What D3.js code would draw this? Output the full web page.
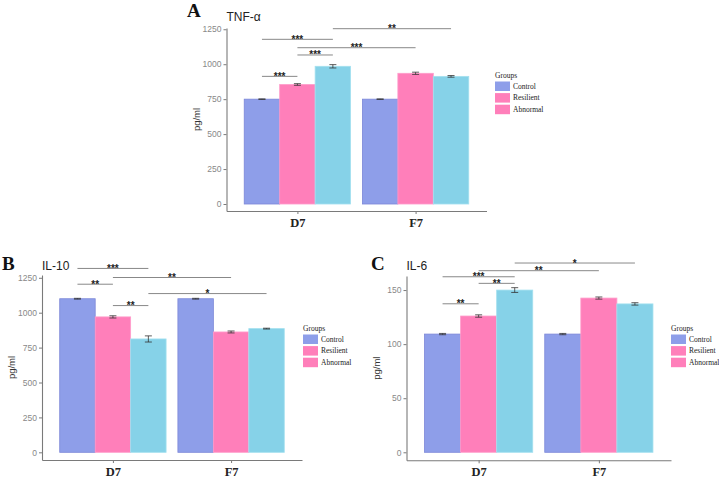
<!DOCTYPE html>
<html>
<head>
<meta charset="utf-8">
<script src="https://cdn.jsdelivr.net/npm/d3@7"></script>
<style>
  body { margin: 0; background: #fff; }
  svg { display: block; }
</style>
</head>
<body>
<div id="chart"></div>
<script>
// shared categories
const timepoints = ["D7", "F7"];
const groups = ["Control", "Resilient", "Abnormal"];
const groupColors = ["#8e9ee9", "#ff7fba", "#86d2e8"];
const groupStrokes = ["#7c87d8", "#ff9ccb", "#a3e0ef"];
// legend swatches as in the original figure (Abnormal shows pink)
const legendColors = ["#8e9ee9", "#ff7fba", "#ff7fba"];

// A: TNF-a
const tnfMean = [[750, 855, 985], [750, 935, 913]];
const tnfErr = [[2, 6, 12], [2, 8, 6]];
const tnfTicks = [0, 250, 500, 750, 1000, 1250];
const tnfSig = [
  { a: [0, 0], b: [0, 1], y: 913, label: "***" },
  { a: [0, 1], b: [0, 2], y: 1066, label: "***" },
  { a: [0, 1], b: [1, 1], y: 1118, label: "***" },
  { a: [0, 0], b: [0, 2], y: 1178, label: "***" },
  { a: [0, 2], b: [1, 2], y: 1254, label: "**" }
];

// B: IL-10
const il10Mean = [[1100, 970, 812], [1100, 862, 886]];
const il10Err = [[3, 8, 22], [3, 7, 3]];
const il10Ticks = [0, 250, 500, 750, 1000, 1250];
const il10Sig = [
  { a: [0, 1], b: [0, 2], y: 1051, label: "**" },
  { a: [0, 2], b: [1, 2], y: 1137, label: "*" },
  { a: [0, 0], b: [0, 1], y: 1204, label: "**" },
  { a: [0, 1], b: [1, 1], y: 1252, label: "**" },
  { a: [0, 0], b: [0, 2], y: 1317, label: "***" }
];

// C: IL-6
const il6Mean = [[109.3, 126, 150], [109.3, 142.6, 137.2]];
const il6Err = [[0.6, 1.1, 2.2], [0.6, 1.0, 1.1]];
const il6Ticks = [0, 50, 100, 150];
const il6Sig = [
  { a: [0, 0], b: [0, 1], y: 137.3, label: "**" },
  { a: [0, 1], b: [0, 2], y: 156.2, label: "**" },
  { a: [0, 0], b: [0, 2], y: 162.3, label: "***" },
  { a: [0, 1], b: [1, 1], y: 167.9, label: "**" },
  { a: [0, 2], b: [1, 2], y: 175, label: "*" }
];

const svg = d3.select("#chart").append("svg").attr("width", 719).attr("height", 479);

function drawPanel(p) {
  const x = d3.scalePoint().domain(timepoints).range([p.left, p.right]).padding(0.6);
  const step = x.step();
  const xg = d3.scaleBand().domain(groups).range([-0.45 * step, 0.45 * step]);
  const y = d3.scaleLinear().domain(p.yDomain).range([p.bottom, p.top]);
  const g = svg.append("g");

  // bars
  const rows = p.mean.flatMap((r, i) => r.map((v, j) => ({ t: timepoints[i], gi: j, v, e: p.err[i][j] })));
  g.selectAll(".bar").data(rows).enter().append("rect")
    .attr("x", d => x(d.t) + xg(groups[d.gi]))
    .attr("y", d => y(d.v))
    .attr("width", xg.bandwidth())
    .attr("height", d => y(0) - y(d.v))
    .attr("fill", d => groupColors[d.gi])
    .attr("stroke", d => groupStrokes[d.gi])
    .attr("stroke-width", 0.8);

  // error bars
  const eb = g.selectAll(".err").data(rows).enter().append("g")
    .attr("stroke", "#333").attr("stroke-width", 0.8);
  const cx = d => x(d.t) + xg(groups[d.gi]) + xg.bandwidth() / 2;
  eb.append("line").attr("x1", cx).attr("x2", cx).attr("y1", d => y(d.v - d.e)).attr("y2", d => y(d.v + d.e));
  eb.append("line").attr("x1", d => cx(d) - 3.5).attr("x2", d => cx(d) + 3.5).attr("y1", d => y(d.v - d.e)).attr("y2", d => y(d.v - d.e));
  eb.append("line").attr("x1", d => cx(d) - 3.5).attr("x2", d => cx(d) + 3.5).attr("y1", d => y(d.v + d.e)).attr("y2", d => y(d.v + d.e));

  // axes
  const yAxis = g.append("g").attr("transform", `translate(${p.left},0)`)
    .call(d3.axisLeft(y).tickValues(p.ticks).tickFormat(d3.format("d")).tickSize(3).tickPadding(2).tickSizeOuter(0));
  yAxis.select(".domain").attr("stroke", "#7a7a7a").attr("stroke-width", 1.1);
  yAxis.selectAll(".tick line").attr("stroke", "#7a7a7a");
  yAxis.selectAll(".tick text").attr("fill", "#888").style("font-family", "Liberation Sans, Arial, sans-serif").style("font-size", "8.5px");

  const xAxis = g.append("g").attr("transform", `translate(0,${p.bottom})`)
    .call(d3.axisBottom(x).tickSize(3).tickPadding(4).tickSizeOuter(0));
  xAxis.select(".domain").attr("stroke", "#7a7a7a").attr("stroke-width", 1.1);
  xAxis.selectAll(".tick line").attr("stroke", "#7a7a7a");
  xAxis.selectAll(".tick text").attr("fill", "#222").style("font-family", "Liberation Serif, Times New Roman, serif")
    .style("font-size", "12.5px").style("font-weight", "bold");

  // y title
  g.append("text")
    .attr("transform", `translate(${p.left - 27},${(p.top + p.bottom) / 2}) rotate(-90)`)
    .attr("text-anchor", "middle")
    .style("font-family", "Liberation Sans, Arial, sans-serif").style("font-size", "9.5px").attr("fill", "#333")
    .text("pg/ml");

  // significance brackets
  const px = ([ti, gi]) => x(timepoints[ti]) + xg(groups[gi]) + xg.bandwidth() / 2;
  const sig = g.selectAll(".sig").data(p.sig).enter().append("g");
  sig.append("line").attr("x1", d => px(d.a)).attr("x2", d => px(d.b))
    .attr("y1", d => y(d.y)).attr("y2", d => y(d.y))
    .attr("stroke", "#7a7a7a").attr("stroke-width", 0.9);
  sig.append("text").attr("x", d => (px(d.a) + px(d.b)) / 2).attr("y", d => y(d.y) + 3.5)
    .attr("text-anchor", "middle").attr("fill", "#222")
    .style("font-family", "Liberation Sans, Arial, sans-serif").style("font-size", "10px").style("font-weight", "bold")
    .text(d => d.label);

  // title and panel letter
  g.append("text").attr("x", p.left).attr("y", p.titleY)
    .style("font-family", "Liberation Sans, Arial, sans-serif").style("font-size", "12px").attr("fill", "#222")
    .text(p.title);
  g.append("text").attr("x", p.letterX).attr("y", p.letterY)
    .style("font-family", "Liberation Serif, Times New Roman, serif").style("font-size", "19px").style("font-weight", "bold")
    .attr("fill", "#111").text(p.letter);

  // legend
  const lg = g.append("g").attr("transform", `translate(${p.legendX},${p.legendY})`)
    .style("font-family", "Liberation Serif, Times New Roman, serif");
  lg.append("text").attr("x", 0).attr("y", 0).style("font-size", "7.5px").attr("fill", "#222").text("Groups");
  const items = lg.selectAll(".item").data(groups).enter().append("g")
    .attr("transform", (d, i) => `translate(0,${4 + i * 11.6})`);
  items.append("rect").attr("width", 15).attr("height", 9.5).attr("fill", (d, i) => legendColors[i]);
  items.append("text").attr("x", 18).attr("y", 7.3).style("font-size", "7.5px").attr("fill", "#222").text(d => d);
}

drawPanel({ mean: tnfMean, err: tnfErr, ticks: tnfTicks, sig: tnfSig, yDomain: [-50, 1259],
  left: 226.5, right: 486.5, top: 28, bottom: 211, title: "TNF-α", titleY: 20.5,
  letter: "A", letterX: 187, letterY: 16.5, legendX: 495, legendY: 77.5 });

drawPanel({ mean: il10Mean, err: il10Err, ticks: il10Ticks, sig: il10Sig, yDomain: [-55, 1270],
  left: 42, right: 302, top: 275, bottom: 460, title: "IL-10", titleY: 270,
  letter: "B", letterX: 2, letterY: 269.5, legendX: 303, legendY: 330.5 });

drawPanel({ mean: il6Mean, err: il6Err, ticks: il6Ticks, sig: il6Sig, yDomain: [-7.4, 163],
  left: 406.5, right: 671, top: 276, bottom: 460.3, title: "IL-6", titleY: 269.5,
  letter: "C", letterX: 371, letterY: 269.5, legendX: 671, legendY: 330.5 });
</script>
</body>
</html>
